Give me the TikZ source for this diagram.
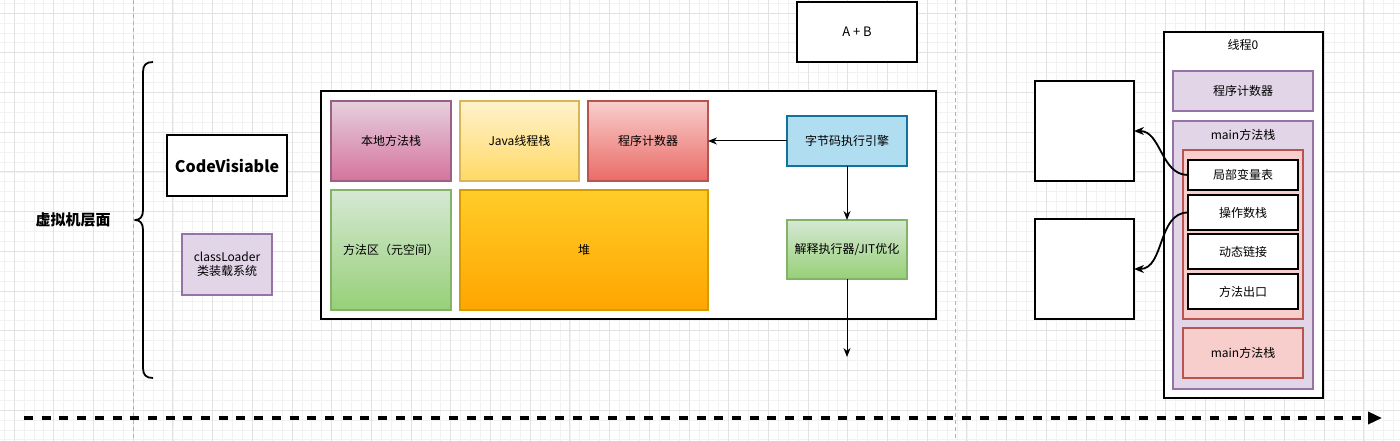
\documentclass[tikz,border=0pt]{standalone}
\usepackage{fontspec}
\setmainfont{Noto Sans CJK SC}
\usetikzlibrary{arrows.meta}
\definecolor{pinkT}{HTML}{E6D0DE}\definecolor{pinkB}{HTML}{D5739D}\definecolor{pinkS}{HTML}{996185}
\definecolor{yelT}{HTML}{FFF2CC}\definecolor{yelB}{HTML}{FFD966}\definecolor{yelS}{HTML}{D6B656}
\definecolor{redT}{HTML}{F8CECC}\definecolor{redB}{HTML}{EA6B66}\definecolor{redS}{HTML}{B85450}
\definecolor{grnT}{HTML}{D5E8D4}\definecolor{grnB}{HTML}{97D077}\definecolor{grnS}{HTML}{82B366}
\definecolor{orgT}{HTML}{FFCD28}\definecolor{orgB}{HTML}{FFA500}\definecolor{orgS}{HTML}{D79B00}
\definecolor{blueF}{HTML}{B1DDF0}\definecolor{blueS}{HTML}{10739E}
\definecolor{purF}{HTML}{E1D5E7}\definecolor{purS}{HTML}{9673A6}
\definecolor{gridMaj}{HTML}{E2E2E2}\definecolor{gridMin}{HTML}{F2F2F2}
\begin{document}
\begin{tikzpicture}[x=1pt,y=-1pt,
  every node/.style={outer sep=0pt, inner sep=2pt, font=\fontsize{12}{14}\selectfont, align=center},
  bx/.style 2 args={minimum width=#1pt, minimum height=#2pt, anchor=north west},
  blk/.style={draw=black, line width=1.8pt, fill=white},
  pinkbox/.style={draw=pinkS, line width=1.5pt, top color=pinkT, bottom color=pinkB},
  yelbox/.style={draw=yelS, line width=1.5pt, top color=yelT, bottom color=yelB},
  redbox/.style={draw=redS, line width=1.5pt, top color=redT, bottom color=redB},
  grnbox/.style={draw=grnS, line width=1.5pt, top color=grnT, bottom color=grnB},
  orgbox/.style={draw=orgS, line width=1.5pt, top color=orgT, bottom color=orgB},
  bluebox/.style={draw=blueS, line width=1.5pt, fill=blueF},
  purbox/.style={draw=purS, line width=1.5pt, fill=purF},
  flatred/.style={draw=redS, line width=1.5pt, fill=redT},
  arr/.style={-{Stealth[length=9pt,width=7pt]}, line width=1pt},
  carr/.style={-{Stealth[length=10pt,width=8pt]}, line width=1.8pt},
]
\useasboundingbox (0,0) rectangle (1400,441);
\fill[white] (0,0) rectangle (1400,441);
% grid
\foreach \i in {-1,...,140} {\draw[gridMin, line width=0.6pt] (14+9.925*\i,0) -- (14+9.925*\i,441);}
\foreach \i in {-2,...,43} {\draw[gridMin, line width=0.6pt] (0,13+9.925*\i) -- (1400,13+9.925*\i);}
\foreach \i in {0,...,35} {\draw[gridMaj, line width=0.8pt] (14+39.7*\i,0) -- (14+39.7*\i,441);}
\foreach \i in {0,...,11} {\draw[gridMaj, line width=0.8pt] (0,13+39.7*\i) -- (1400,13+39.7*\i);}
\draw[gray!60, line width=0.8pt, dash pattern=on 4pt off 3pt] (133,0) -- (133,441);
\draw[gray!60, line width=0.8pt, dash pattern=on 4pt off 3pt] (955,0) -- (955,441);

% left
\node[font=\fontsize{15}{17}\selectfont\bfseries] (vm) at (73,220) {虚拟机层面};
\draw[line width=1.8pt, line join=round] (153,62) .. controls (146,62) and (143,65) .. (143,72)
  -- (143,210) .. controls (143,217) and (140,220) .. (135,220)
  .. controls (140,220) and (143,223) .. (143,230) -- (143,368)
  .. controls (143,375) and (146,378) .. (153,378);
\node[blk, bx={120}{61}, font=\fontsize{16}{18}\selectfont\bfseries] (cv) at (167,135) {CodeVisiable};
\node[purbox, bx={90}{61}] (cl) at (182,234) {classLoader\\类装载系统};

% middle
\node[blk, bx={615}{228}] (big) at (321,91) {};
\node[pinkbox, bx={120}{80}] (nms) at (331,101) {本地方法栈};
\node[yelbox, bx={119}{80}] (jts) at (460,101) {Java线程栈};
\node[redbox, bx={120}{80}] (pc) at (588,101) {程序计数器};
\node[grnbox, bx={120}{120}] (ma) at (331,190) {方法区（元空间）};
\node[orgbox, bx={248}{120}] (heap) at (460,190) {堆};
\node[bluebox, bx={120}{50}] (eng) at (787,116) {字节码执行引擎};
\node[grnbox, bx={120}{59}] (jit) at (787,220) {解释执行器/JIT优化};
\coordinate (jitout) at (847,357);
\draw[arr] (eng.west) -- (pc.east);
\draw[arr] (eng.south) -- (jit.north);
\draw[arr] (jit.south) -- (jitout);
\node[blk, bx={120}{60}, font=\fontsize{13}{15}\selectfont] (ab) at (797,2) {A + B};

% right
\node[blk, bx={99}{100}] (b1) at (1035,81) {};
\node[blk, bx={99}{100}] (b2) at (1035,219) {};
\node[blk, bx={159}{366}] (th) at (1164,32) {};
\node (thl) at (1243,45) {线程0};
\node[purbox, bx={140}{40}] (tpc) at (1173,71) {程序计数器};
\node[purbox, bx={140}{268}] (ms) at (1173,121) {};
\node (msl) at (1243,135) {main方法栈};
\node[flatred, bx={120}{169}] (fr) at (1183,150) {};
\node[draw=black, line width=1.5pt, fill=white, bx={110}{30}] (lv) at (1188,160) {局部变量表};
\node[draw=black, line width=1.5pt, fill=white, bx={110}{35}] (os) at (1188,195) {操作数栈};
\node[draw=black, line width=1.5pt, fill=white, bx={110}{35}] (dl) at (1188,234) {动态链接};
\node[draw=black, line width=1.5pt, fill=white, bx={110}{35}] (mo) at (1188,274) {方法出口};
\node[flatred, bx={120}{50}] (ms2) at (1183,328) {main方法栈};
\draw[carr] (lv.west) to[out=180,in=0] (b1.east);
\draw[carr] (os.west) to[out=180,in=0] (b2.east);

% bottom timeline
\coordinate (tl0) at (24,418);
\coordinate (tl1) at (1382,418);
\draw[line width=3.3pt, dash pattern=on 9pt off 8.7pt, -{Triangle[length=14pt,width=12pt]}] (tl0) -- (tl1);
\end{tikzpicture}
\end{document}
